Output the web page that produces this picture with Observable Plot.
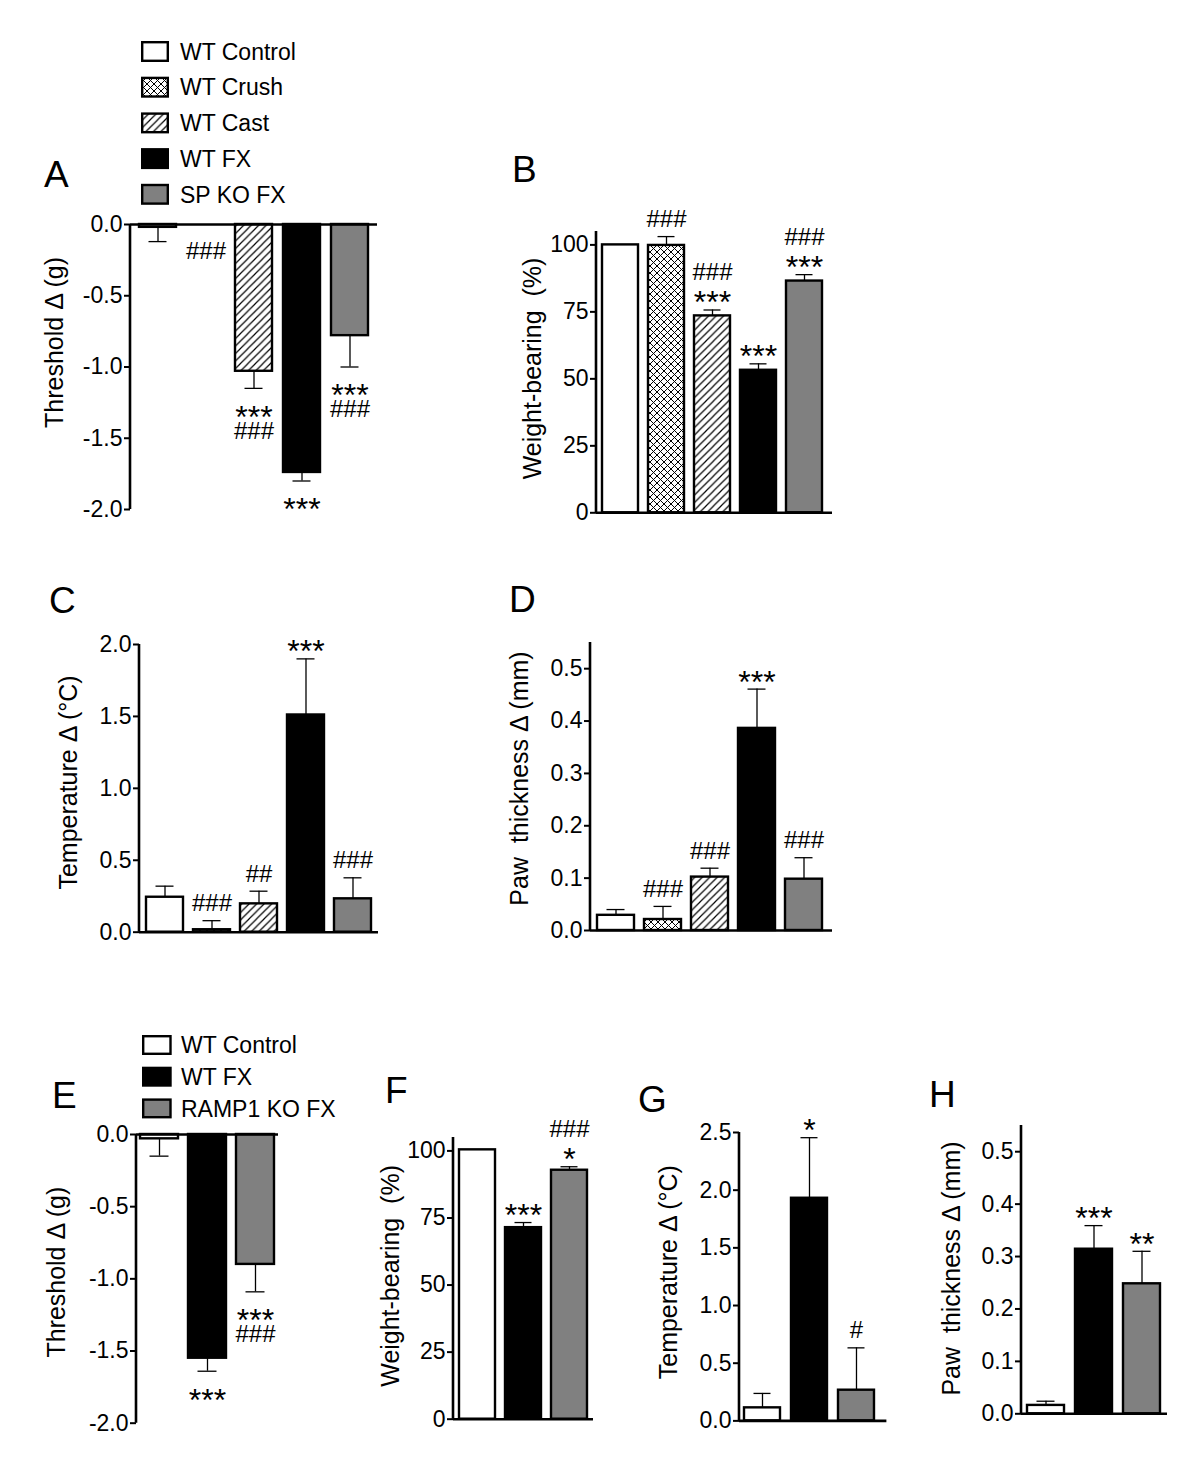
<!DOCTYPE html>
<html>
<head>
<meta charset="utf-8">
<script src="https://cdn.jsdelivr.net/npm/d3@7"></script>
<script src="https://cdn.jsdelivr.net/npm/@observablehq/plot@0.6"></script>
<style>
  html, body { margin: 0; padding: 0; background: #fff; }
  #fig { position: relative; width: 1200px; height: 1459px; background: #fff; overflow: hidden;
         font-family: "Liberation Sans", Arial, Helvetica, sans-serif; }
  #fig svg { position: absolute; overflow: visible; background: transparent; }
  #fig svg [aria-label^="y-axis"] line, #fig svg [aria-label^="y-axis"] path { stroke-width: 2px; stroke: #000; }
  #fig svg [aria-label^="y-axis"] text { font-size: 23px; fill: #000; font-variant: normal; }
</style>
</head>
<body>
<div id="fig"></div>
<script>
// ---------------- DATA ----------------
const groupsAD = ["WT Control", "WT Crush", "WT Cast", "WT FX", "SP KO FX"];
const groupsEH = ["WT Control", "WT FX", "RAMP1 KO FX"];

// A: mechanical threshold change (g)
const threshA    = [-0.02, 0.0, -1.03, -1.74, -0.78];
const threshAErr = [0.10, 0.0, 0.12, 0.06, 0.22];
const starsA  = ["", "", "***", "***", "***"];
const hashesA = ["", "###", "###", "", "###"];

// B: weight-bearing (%)
const weightB    = [100.0, 99.8, 73.5, 53.2, 86.5];
const weightBErr = [0.0, 3.3, 2.2, 2.4, 2.4];
const starsB  = ["", "", "***", "***", "***"];
const hashesB = ["", "###", "###", "", "###"];

// C: temperature change (°C)
const tempC    = [0.243, 0.017, 0.197, 1.51, 0.232];
const tempCErr = [0.077, 0.063, 0.088, 0.39, 0.146];
const starsC  = ["", "", "", "***", ""];
const hashesC = ["", "###", "##", "", "###"];

// D: paw thickness change (mm)
const pawD    = [0.029, 0.021, 0.102, 0.386, 0.098];
const pawDErr = [0.011, 0.025, 0.017, 0.075, 0.041];
const starsD  = ["", "", "", "***", ""];
const hashesD = ["", "###", "###", "", "###"];

// E: mechanical threshold change (g)
const threshE    = [-0.03, -1.55, -0.90];
const threshEErr = [0.12, 0.09, 0.19];
const starsE  = ["", "***", "***"];
const hashesE = ["", "", "###"];

// F: weight-bearing (%)
const weightF    = [100.4, 71.4, 92.8];
const weightFErr = [0.0, 1.9, 1.3];
const starsF  = ["", "***", "*"];
const hashesF = ["", "", "###"];

// G: temperature change (°C)
const tempG    = [0.113, 1.93, 0.266];
const tempGErr = [0.125, 0.525, 0.367];
const starsG  = ["", "*", ""];
const hashesG = ["", "", "#"];

// H: paw thickness change (mm)
const pawH    = [0.016, 0.314, 0.248];
const pawHErr = [0.008, 0.045, 0.062];
const starsH  = ["", "***", "**"];
const hashesH = ["", "", ""];

// axis ticks
const ticksThreshold = [-2.0, -1.5, -1.0, -0.5, 0.0];
const ticksWeight    = [0, 25, 50, 75, 100];
const ticksTempC     = [0.0, 0.5, 1.0, 1.5, 2.0];
const ticksTempG     = [0.0, 0.5, 1.0, 1.5, 2.0, 2.5];
const ticksPaw       = [0.0, 0.1, 0.2, 0.3, 0.4, 0.5];

const labelThreshold = "Threshold Δ (g)";
const labelWeight    = "Weight-bearing  (%)";
const labelTemp      = "Temperature Δ (°C)";
const labelPaw       = "Paw  thickness Δ (mm)";

// ---------------- STYLE ----------------
const FONT = '"Liberation Sans", Arial, Helvetica, sans-serif';
const fills = {
  "WT Control": "white",
  "WT Crush": "url(#crosshatch)",
  "WT Cast": "url(#diagonal)",
  "WT FX": "black",
  "SP KO FX": "#808080",
  "RAMP1 KO FX": "#808080"
};

const fig = d3.select("#fig");
const overlay = fig.append("svg")
  .attr("width", 1200).attr("height", 1459)
  .style("left", "0px").style("top", "0px")
  .attr("font-family", FONT);

const defs = overlay.append("defs");
const CP = 7;
const ch = defs.append("pattern").attr("id", "crosshatch")
  .attr("patternUnits", "userSpaceOnUse").attr("width", CP).attr("height", CP);
ch.append("rect").attr("width", CP).attr("height", CP).attr("fill", "white");
ch.append("path").attr("d", `M0,0L${CP},${CP}M0,${CP}L${CP},0M-1,1L1,-1M${CP-1},${CP+1}L${CP+1},${CP-1}M-1,${CP-1}L1,${CP+1}M${CP-1},-1L${CP+1},1`)
  .attr("stroke", "black").attr("stroke-width", 1.0).attr("fill", "none");
const DP = 7.5;
const dg = defs.append("pattern").attr("id", "diagonal")
  .attr("patternUnits", "userSpaceOnUse").attr("width", DP).attr("height", DP);
dg.append("rect").attr("width", DP).attr("height", DP).attr("fill", "white");
dg.append("path").attr("d", `M0,${DP}L${DP},0M-2,2L2,-2M${DP-2},${DP+2}L${DP+2},${DP-2}`)
  .attr("stroke", "black").attr("stroke-width", 1.2).attr("fill", "none");

// ---------------- LEGENDS & PANEL LETTERS ----------------
function legend(items, L) {
  items.forEach((g, i) => {
    const cy = L.y0 + i * L.dy;
    overlay.append("rect")
      .attr("x", L.x).attr("y", cy - L.h / 2).attr("width", L.w).attr("height", L.h)
      .attr("fill", fills[g]).attr("stroke", "black").attr("stroke-width", 2.4);
    overlay.append("text")
      .attr("x", L.tx).attr("y", cy).attr("dy", "0.36em")
      .attr("font-size", L.fs).attr("fill", "black").text(g);
  });
}
legend(groupsAD, {x: 142.2, w: 25.6, h: 18.6, y0: 51.5, dy: 35.7, tx: 180, fs: 23});
legend(groupsEH, {x: 143.2, w: 27.3, h: 17.6, y0: 1045, dy: 31.7, tx: 181, fs: 23});

const letters = [
  {t: "A", x: 44, y: 187}, {t: "B", x: 512, y: 182},
  {t: "C", x: 49, y: 613}, {t: "D", x: 509, y: 612},
  {t: "E", x: 52, y: 1108}, {t: "F", x: 385, y: 1103},
  {t: "G", x: 638, y: 1112}, {t: "H", x: 929, y: 1107}
];
letters.forEach(l => overlay.append("text").attr("x", l.x).attr("y", l.y)
  .attr("font-size", 37).attr("fill", "black").text(l.t));

// ---------------- PANELS ----------------
const STAR_FS = 32, HASH_FS = 24;
function drawPanel(p) {
  const n = p.groups.length;
  const sign = p.domain[0] < 0 ? -1 : 1;
  const rows = p.groups.map((g, i) => ({
    group: g, mean: p.means[i], sem: p.sems[i],
    end: p.means[i] + sign * p.sems[i],
    stars: p.stars[i], hashes: p.hashes[i], fill: fills[g]
  }));
  const ml = 100, mr = 30, mt = 70, mb = 50;
  const left = p.axisX - ml, top = p.yTop - mt;
  const W = p.xEnd - p.axisX + ml + mr;
  const H = p.yBot - p.yTop + mt + mb;
  const step = (p.Rn - p.L1 - p.bw) / (n - 1);
  const pi = 1 - p.bw / step;

  // annotation offsets (glyph centre distance from the error-bar end, px)
  const starRows = rows.filter(r => r.stars);
  const hashNear = rows.filter(r => r.hashes && !r.stars);
  const hashFar  = rows.filter(r => r.hashes && r.stars);
  const starOff = sign < 0 ? 21 : -15;
  const hashNearOff = sign < 0 ? 26 : -18;
  const hashFarOff = sign < 0 ? 42 : -38;
  const sCorr = (0.575 - 0.32) * STAR_FS, hCorr = (0.35 - 0.32) * HASH_FS;
  const annMarks = [
    Plot.text(starRows, {x: "group", y: "end", text: "stars", fontSize: STAR_FS, lineAnchor: "middle", dy: starOff + sCorr, fill: "black"}),
    Plot.text(hashNear, {x: "group", y: "end", text: "hashes", fontSize: HASH_FS, lineAnchor: "middle", dy: hashNearOff + hCorr, fill: "black"}),
    Plot.text(hashFar,  {x: "group", y: "end", text: "hashes", fontSize: HASH_FS, lineAnchor: "middle", dy: hashFarOff + hCorr, fill: "black"})
  ];

  const yAxisLine = (index, scales, values, dims) => {
    const l = document.createElementNS("http://www.w3.org/2000/svg", "line");
    l.setAttribute("x1", dims.marginLeft); l.setAttribute("x2", dims.marginLeft);
    l.setAttribute("y1", dims.marginTop); l.setAttribute("y2", dims.height - dims.marginBottom);
    l.setAttribute("stroke", "black"); l.setAttribute("stroke-width", 2.6);
    return l;
  };
  const withErr = rows.filter(d => d.sem > 0);
  const chart = Plot.plot({
    width: W, height: H,
    marginLeft: ml, marginRight: mr, marginTop: mt, marginBottom: mb,
    style: {background: "transparent", overflow: "visible", fontFamily: FONT, color: "black"},
    x: {domain: p.groups, range: [p.L1 - left, p.Rn - left], paddingInner: pi, paddingOuter: 0, align: 0.5, axis: null},
    y: {domain: p.domain, ticks: p.ticks, tickFormat: d => d.toFixed(p.dec), tickSize: 6, tickPadding: 2, label: null},
    color: {type: "identity"},
    marks: [
      Plot.barY(rows, {x: "group", y: "mean", fill: "fill", stroke: "black", strokeWidth: 2.4}),
      Plot.ruleX(withErr, {x: "group", y1: "mean", y2: "end", stroke: "black", strokeWidth: 1.3}),
      Plot.tickY(withErr, {x: "group", y: "end", stroke: "black", strokeWidth: 1.3, insetLeft: 9.5, insetRight: 9.5}),
      Plot.ruleY([0], {stroke: "black", strokeWidth: 2.6}),
      yAxisLine,
      Plot.text([p.label], {
        text: d => d, frameAnchor: "left", rotate: -90,
        dx: p.labelX - p.axisX, dy: p.labelY - (p.yTop + p.yBot) / 2,
        fontSize: p.labelSize, lineAnchor: "middle", textAnchor: "middle", fill: "black"
      }),
      ...annMarks
    ]
  });
  chart.style.left = left + "px";
  chart.style.top = top + "px";
  chart.style.position = "absolute";
  document.getElementById("fig").appendChild(chart);
}

const LS = 25;
const panels = [
  {groups: groupsAD, means: threshA, sems: threshAErr, stars: starsA, hashes: hashesA,
   domain: [-2, 0], ticks: ticksThreshold, dec: 1, label: labelThreshold, labelSize: LS,
   axisX: 130, xEnd: 377, yTop: 224, yBot: 509, L1: 138, Rn: 369.5, bw: 37.5, labelX: 54, labelY: 342},
  {groups: groupsAD, means: weightB, sems: weightBErr, stars: starsB, hashes: hashesB,
   domain: [0, 105], ticks: ticksWeight, dec: 0, label: labelWeight, labelSize: LS,
   axisX: 596, xEnd: 832, yTop: 231, yBot: 512.3, L1: 600, Rn: 824, bw: 37, labelX: 532, labelY: 368},
  {groups: groupsAD, means: tempC, sems: tempCErr, stars: starsC, hashes: hashesC,
   domain: [0, 2], ticks: ticksTempC, dec: 1, label: labelTemp, labelSize: LS,
   axisX: 139, xEnd: 378, yTop: 644, yBot: 931.7, L1: 144.3, Rn: 373.3, bw: 38, labelX: 68, labelY: 782},
  {groups: groupsAD, means: pawD, sems: pawDErr, stars: starsD, hashes: hashesD,
   domain: [0, 0.55], ticks: ticksPaw, dec: 1, label: labelPaw, labelSize: LS,
   axisX: 590, xEnd: 832, yTop: 642, yBot: 930, L1: 595, Rn: 824.3, bw: 37.5, labelX: 519, labelY: 778},
  {groups: groupsEH, means: threshE, sems: threshEErr, stars: starsE, hashes: hashesE,
   domain: [-2, 0], ticks: ticksThreshold, dec: 1, label: labelThreshold, labelSize: LS,
   axisX: 136, xEnd: 278, yTop: 1134.3, yBot: 1423, L1: 140, Rn: 274.3, bw: 38, labelX: 56, labelY: 1272},
  {groups: groupsEH, means: weightF, sems: weightFErr, stars: starsF, hashes: hashesF,
   domain: [0, 105], ticks: ticksWeight, dec: 0, label: labelWeight, labelSize: LS,
   axisX: 452.7, xEnd: 592.7, yTop: 1136.6, yBot: 1418.3, L1: 457.3, Rn: 587.3, bw: 36.5, labelX: 390, labelY: 1275},
  {groups: groupsEH, means: tempG, sems: tempGErr, stars: starsG, hashes: hashesG,
   domain: [0, 2.5], ticks: ticksTempG, dec: 1, label: labelTemp, labelSize: LS,
   axisX: 739.3, xEnd: 886.7, yTop: 1132.3, yBot: 1420.7, L1: 743.3, Rn: 876, bw: 37, labelX: 669, labelY: 1272},
  {groups: groupsEH, means: pawH, sems: pawHErr, stars: starsH, hashes: hashesH,
   domain: [0, 0.55], ticks: ticksPaw, dec: 1, label: labelPaw, labelSize: LS,
   axisX: 1020.7, xEnd: 1166.7, yTop: 1125, yBot: 1413.3, L1: 1026, Rn: 1160, bw: 37.5, labelX: 951, labelY: 1268}
];
panels.forEach(drawPanel);
</script>
</body>
</html>
